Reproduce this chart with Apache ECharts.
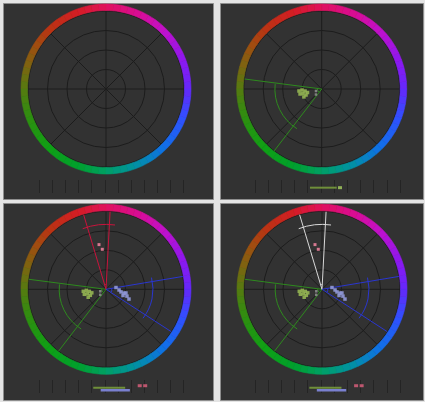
<!DOCTYPE html>
<html>
<head>
<meta charset="utf-8">
<script src="https://cdn.jsdelivr.net/npm/echarts@6/dist/echarts.min.js"></script>
<style>
  html, body { margin: 0; padding: 0; background: #e4e4e4; }
  #main { width: 425px; height: 402px; }
</style>
</head>
<body>
<div id="main"></div>
<script>
var hueStops = [
  [0, '#6428fa'], [20, '#8c18f0'], [45, '#c010cc'], [65, '#d80c98'],
  [90, '#e0105e'], [110, '#d41c24'], [135, '#b83612'], [150, '#9c5010'],
  [165, '#7a6610'], [180, '#567a10'], [200, '#2e8e10'], [225, '#10a014'],
  [250, '#00a02c'], [270, '#00a064'], [290, '#0092a0'], [315, '#1070e8'],
  [340, '#3050ff'], [360, '#6428fa']
]

// vectors: [radius, angle] with radius in graticule rings (0..4)
var greenLines = [172.6, 232.5]
var greenArcs = [[2.4, 174, 238], [0.22, 175, 230]]
var greenBlob = [[1.17, 185], [1.01, 183], [0.86, 187], [0.99, 193.5],
  [0.86, 201], [1.14, 193], [1.0, 204], [0.75, 194]]
var grayDots = [[0.31, 199], [0.41, 224]]

var redLines = [87, 106.7]
var redArcs = [[3.33, 82, 111], [0.25, 88, 106]]
var redDots = [[2.32, 98.9], [2.06, 95.3]]

var blueLines = [9.5, 327]
var blueArcs = [[2.41, 322, 374.4], [0.3, 330, 368]]
var blueBlob = [[0.52, 10], [0.67, 357], [0.78, 350], [0.94, 348],
  [0.93, 340], [1.13, 342], [1.28, 337], [1.04, 349.5]]

// strip under the wheel: [x tick units, y 0..1]
var stripGreen2 = [[4.17, 0.41], [6.2, 0.41]]
var stripGreenTip2 = [[6.45, 0.41]]
var stripGreen = [[4.12, 0.41], [6.56, 0.41]]
var stripBlue = [[4.69, 0.21], [6.92, 0.21]]
var stripRed = [[7.67, 0.56], [8.09, 0.56]]

var panels = [
  { rect: [3, 3, 210, 196], cx: 106, cy: 89, strip: [39.3, 180, 144] },
  { rect: [220, 3, 203, 196], cx: 321.7, cy: 89, strip: [255, 180, 145] },
  { rect: [3, 203, 210, 197], cx: 106, cy: 289.3, strip: [39.3, 380, 144] },
  { rect: [220, 203, 203, 197], cx: 322, cy: 289.3, strip: [255, 380, 145] },
]

function hexToRgb(h) {
  return [parseInt(h.substr(1, 2), 16), parseInt(h.substr(3, 2), 16), parseInt(h.substr(5, 2), 16)]
}
function hueColor(a) {
  for (var i = 0; i < hueStops.length - 1; i++) {
    var s0 = hueStops[i], s1 = hueStops[i + 1]
    if (a >= s0[0] && a <= s1[0]) {
      var t = (a - s0[0]) / (s1[0] - s0[0])
      var c0 = hexToRgb(s0[1]), c1 = hexToRgb(s1[1])
      var c = c0.map(function (v, k) { return Math.round(v + (c1[k] - v) * t) })
      return 'rgb(' + c.join(',') + ')'
    }
  }
  return hueStops[0][1]
}

var ringCats = []
var ringData = []
for (var i = 0; i < 72; i++) {
  ringCats.push('h' + i)
  var col = hueColor(i * 5 + 2.5)
  ringData.push({ value: 1, itemStyle: { color: col, borderColor: col, borderWidth: 0.6 } })
}

var polar = [], angleAxis = [], radiusAxis = []
var grid = [], xAxis = [], yAxis = []
var series = []
var graphic = []

panels.forEach(function (p, i) {
  graphic.push({
    type: 'rect', z: -100,
    shape: { x: p.rect[0] + 0.5, y: p.rect[1] + 0.5, width: p.rect[2], height: p.rect[3] },
    style: { fill: '#323232', stroke: '#8e8e8e', lineWidth: 1 },
  })
  // graticule
  polar.push({ center: [p.cx, p.cy], radius: [0, 78] })
  angleAxis.push({
    polarIndex: i, type: 'value', min: 0, max: 360, interval: 45,
    startAngle: 0, clockwise: false,
    axisLine: { show: false }, axisTick: { show: false }, axisLabel: { show: false },
    splitLine: { show: true, lineStyle: { color: '#1c1c1c', width: 1 } },
  })
  radiusAxis.push({
    polarIndex: i, type: 'value', min: 0, max: 4, interval: 1,
    axisLine: { show: false }, axisTick: { show: false }, axisLabel: { show: false },
    splitLine: { show: true, lineStyle: { color: '#1c1c1c', width: 1 } },
  })
  // tick strip
  grid.push({ left: p.strip[0], top: p.strip[1], width: p.strip[2], height: 13 })
  xAxis.push({
    gridIndex: i, type: 'value', min: 0, max: 11, interval: 1,
    axisLine: { show: false }, axisTick: { show: false }, axisLabel: { show: false },
    splitLine: { show: true, lineStyle: { color: '#242424', width: 1 } },
  })
  yAxis.push({
    gridIndex: i, type: 'value', min: 0, max: 1,
    axisLine: { show: false }, axisTick: { show: false }, axisLabel: { show: false },
    splitLine: { show: false },
  })
})

// hue ring polars, indexes 4..7
panels.forEach(function (p, i) {
  polar.push({ center: [p.cx, p.cy], radius: [78.5, 85] })
  angleAxis.push({
    polarIndex: 4 + i, type: 'category', data: ringCats, startAngle: 0, clockwise: false,
    axisLine: { show: false }, axisTick: { show: false }, axisLabel: { show: false },
    splitLine: { show: false },
  })
  radiusAxis.push({
    polarIndex: 4 + i, type: 'value', min: 0, max: 1,
    axisLine: { show: false }, axisTick: { show: false }, axisLabel: { show: false },
    splitLine: { show: false },
  })
  series.push({
    type: 'bar', coordinateSystem: 'polar', polarIndex: 4 + i,
    barCategoryGap: '0%', data: ringData, silent: true,
  })
})

function vector(pi, angles, color) {
  series.push({
    type: 'line', coordinateSystem: 'polar', polarIndex: pi, symbol: 'none',
    data: [[4, angles[0]], [0, 0], [4, angles[1]]],
    lineStyle: { color: color, width: 1 }, z: 5,
  })
}
function arcs(pi, list, color) {
  series.push({
    type: 'custom', coordinateSystem: 'polar', polarIndex: pi, data: list, z: 5,
    renderItem: function (params, api) {
      var c = api.coord([0, 0])
      var a = api.coord([api.value(0), api.value(1)])
      var b = api.coord([api.value(0), api.value(2)])
      var r = Math.hypot(a[0] - c[0], a[1] - c[1])
      return {
        type: 'arc',
        shape: {
          cx: c[0], cy: c[1], r: r,
          startAngle: Math.atan2(a[1] - c[1], a[0] - c[0]),
          endAngle: Math.atan2(b[1] - c[1], b[0] - c[0]),
          clockwise: false,
        },
        style: { stroke: color, fill: null, lineWidth: 1 },
      }
    },
  })
}
function dots(pi, pts, color, size) {
  series.push({
    type: 'scatter', coordinateSystem: 'polar', polarIndex: pi, data: pts,
    symbol: 'rect', symbolSize: size, itemStyle: { color: color, opacity: 0.9 }, z: 6,
  })
}
function stripLine(gi, pts, color, w) {
  series.push({
    type: 'line', xAxisIndex: gi, yAxisIndex: gi, data: pts, symbol: 'none',
    lineStyle: { color: color, width: w }, z: 5,
  })
}
function stripDots(gi, pts, color) {
  series.push({
    type: 'scatter', xAxisIndex: gi, yAxisIndex: gi, data: pts,
    symbol: 'rect', symbolSize: [4, 3], itemStyle: { color: color }, z: 6,
  })
}

// panel 2: green only
vector(1, greenLines, '#2e8a1e')
arcs(1, greenArcs, '#2e8a1e')
dots(1, greenBlob, '#94b452', 3.5)
dots(1, grayDots, '#8a8a8a', 2.5)
stripLine(1, stripGreen2, '#6f8f3a', 2)
stripDots(1, stripGreenTip2, '#a8d060')

// panels 3 and 4: green, red / white, blue
;[2, 3].forEach(function (pi) {
  vector(pi, greenLines, '#2e8a1e')
  arcs(pi, greenArcs, '#2e8a1e')
  dots(pi, greenBlob, '#94b452', 3.5)
  dots(pi, grayDots, '#8a8a8a', 2.5)
  var c = pi === 2 ? '#c8143c' : '#d8d8d8'
  vector(pi, redLines, c)
  arcs(pi, redArcs, c)
  dots(pi, redDots, '#e8809a', 3)
  vector(pi, blueLines, '#2a36d0')
  arcs(pi, blueArcs, '#2a36d0')
  dots(pi, blueBlob, '#9098d8', 3.5)
  stripLine(pi, stripGreen, '#6f8f3a', 2)
  stripLine(pi, stripBlue, '#7a80d0', 2.5)
  stripDots(pi, stripRed, '#e0607e')
})

var chart = echarts.init(document.getElementById('main'))
chart.setOption({
  backgroundColor: '#e4e4e4',
  animation: false,
  graphic: graphic,
  polar: polar,
  angleAxis: angleAxis,
  radiusAxis: radiusAxis,
  grid: grid,
  xAxis: xAxis,
  yAxis: yAxis,
  series: series,
})
</script>
</body>
</html>
